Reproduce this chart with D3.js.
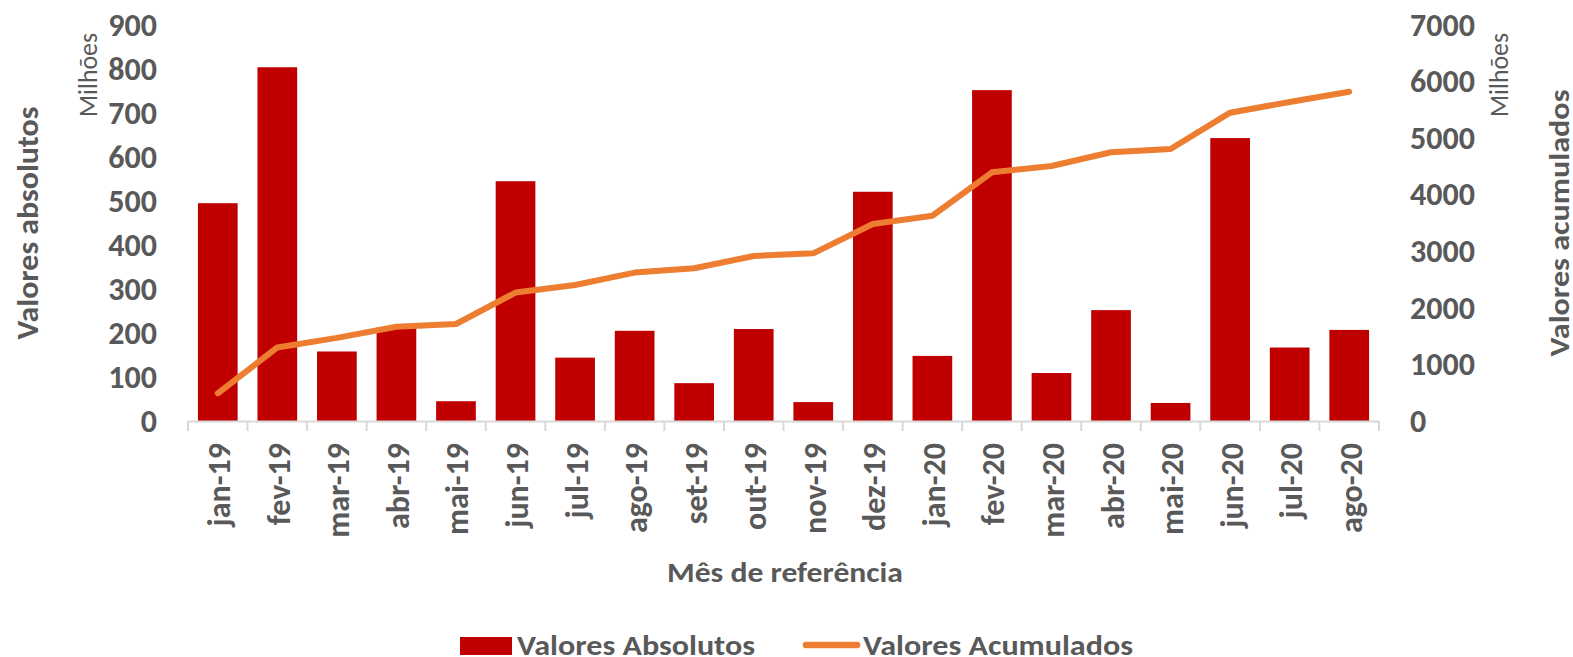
<!DOCTYPE html>
<html lang="pt">
<head>
<meta charset="UTF-8">
<title>Valores absolutos e acumulados</title>
<style>
    html, body { margin: 0; padding: 0; background: #fff; }
    svg { display: block; font-family: Carlito, Calibri, Lato, sans-serif; }
    text { fill: #595959; }
</style>
</head>
<body>
<div id="chart"></div>
<script src="https://d3js.org/d3.v7.min.js"></script>
<script>
    // dados (milhões)
    const meses = ['jan-19', 'fev-19', 'mar-19', 'abr-19', 'mai-19', 'jun-19', 'jul-19', 'ago-19', 'set-19', 'out-19',
        'nov-19', 'dez-19', 'jan-20', 'fev-20', 'mar-20', 'abr-20', 'mai-20', 'jun-20', 'jul-20', 'ago-20']
    const absolutos = [495, 804, 158, 212, 45, 545, 144, 205, 86, 209, 43, 521, 148, 752, 109, 252, 41, 643, 167, 207]
    const acumulados = [490, 1300, 1470, 1667, 1715, 2270, 2405, 2623, 2700, 2917, 2964, 3482, 3629, 4396, 4508, 4750, 4808, 5450, 5639, 5821]
    const ticksEsq = [0, 100, 200, 300, 400, 500, 600, 700, 800, 900]
    const ticksDir = [0, 1000, 2000, 3000, 4000, 5000, 6000, 7000]

    const width = 1573
    const height = 657
    const mLeft = 188, mRight = 1379, mTop = 25, mBottom = 421

    const svg = d3.select('#chart').append('svg')
        .attr('width', width)
        .attr('height', height)

    const x = d3.scaleBand()
        .domain(meses)
        .range([mLeft, mRight])
        .paddingInner(1 / 3)
        .paddingOuter(1 / 6)

    const yL = d3.scaleLinear().domain([0, 900]).range([mBottom, mTop])
    const yR = d3.scaleLinear().domain([0, 7000]).range([mBottom, mTop])

    // barras
    svg.append('g')
        .selectAll('rect')
        .data(absolutos)
        .join('rect')
        .attr('x', (_, i) => x(meses[i]))
        .attr('y', d => yL(d))
        .attr('width', x.bandwidth())
        .attr('height', d => yL(0) - yL(d))
        .attr('fill', '#C00000')

    // eixo x: linha + marcas entre categorias
    const step = x.step()
    const gx = svg.append('g')
    gx.append('line')
        .attr('x1', mLeft).attr('x2', mRight)
        .attr('y1', mBottom + 0.5).attr('y2', mBottom + 0.5)
        .attr('stroke', '#D9D9D9').attr('stroke-width', 2)
    gx.selectAll('line.tick')
        .data(d3.range(meses.length + 1))
        .join('line')
        .attr('class', 'tick')
        .attr('x1', i => mLeft + i * step).attr('x2', i => mLeft + i * step)
        .attr('y1', mBottom).attr('y2', mBottom + 10)
        .attr('stroke', '#D9D9D9').attr('stroke-width', 2)
    gx.selectAll('text')
        .data(meses)
        .join('text')
        .attr('transform', d => `translate(${x(d) + x.bandwidth() / 2 + 12.5}, 443) rotate(-90)`)
        .attr('text-anchor', 'end')
        .style('font-size', '32px')
        .style('font-weight', 'bold')
        .text(d => d)

    // linha acumulada
    const line = d3.line()
        .x((_, i) => x(meses[i]) + x.bandwidth() / 2)
        .y(d => yR(d))

    svg.append('path')
        .datum(acumulados)
        .attr('d', line)
        .attr('fill', 'none')
        .attr('stroke', '#ED7D31')
        .attr('stroke-width', 6)
        .attr('stroke-linecap', 'round')
        .attr('stroke-linejoin', 'round')

    // eixos y
    const axL = svg.append('g')
        .attr('transform', `translate(${mLeft}, 0)`)
        .call(d3.axisLeft(yL).tickValues(ticksEsq).tickSize(0).tickPadding(31))
    const axR = svg.append('g')
        .attr('transform', `translate(${mRight}, 0)`)
        .call(d3.axisRight(yR).tickValues(ticksDir).tickFormat(d3.format('d')).tickSize(0).tickPadding(31))
    ;[axL, axR].forEach(g => {
        g.select('.domain').remove()
        g.selectAll('text')
            .attr('fill', '#595959')
            .style('font-size', '32px')
            .style('font-weight', 'bold')
            .style('font-family', 'Carlito, Calibri, Lato, sans-serif')
    })

    // títulos
    const vtext = (bx, cy, txt, size, weight, len) => svg.append('text')
        .attr('transform', `translate(${bx}, ${cy}) rotate(-90)`)
        .attr('text-anchor', 'middle')
        .attr('textLength', len)
        .attr('lengthAdjust', 'spacingAndGlyphs')
        .style('font-size', size + 'px')
        .style('font-weight', weight)
        .text(txt)

    vtext(38, 223, 'Valores absolutos', 30, 'bold', 233)
    vtext(1569, 223, 'Valores acumulados', 29, 'bold', 267)
    vtext(97, 75, 'Milhões', 26, 'normal', 84)
    vtext(1508, 75, 'Milhões', 26, 'normal', 84)

    svg.append('text')
        .attr('x', 785).attr('y', 582)
        .attr('text-anchor', 'middle')
        .attr('textLength', 236)
        .attr('lengthAdjust', 'spacingAndGlyphs')
        .style('font-size', '29px')
        .style('font-weight', 'bold')
        .text('Mês de referência')

    // legenda
    const leg = svg.append('g')
    leg.append('rect')
        .attr('x', 460).attr('y', 637).attr('width', 52).attr('height', 18)
        .attr('fill', '#C00000')
    leg.append('text')
        .attr('x', 517).attr('y', 655)
        .attr('textLength', 238)
        .attr('lengthAdjust', 'spacingAndGlyphs')
        .style('font-size', '28px')
        .style('font-weight', 'bold')
        .text('Valores Absolutos')
    leg.append('line')
        .attr('x1', 806).attr('x2', 857).attr('y1', 645).attr('y2', 645)
        .attr('stroke', '#ED7D31').attr('stroke-width', 6.5).attr('stroke-linecap', 'round')
    leg.append('text')
        .attr('x', 863).attr('y', 655)
        .attr('textLength', 270)
        .attr('lengthAdjust', 'spacingAndGlyphs')
        .style('font-size', '28px')
        .style('font-weight', 'bold')
        .text('Valores Acumulados')
</script>
</body>
</html>
